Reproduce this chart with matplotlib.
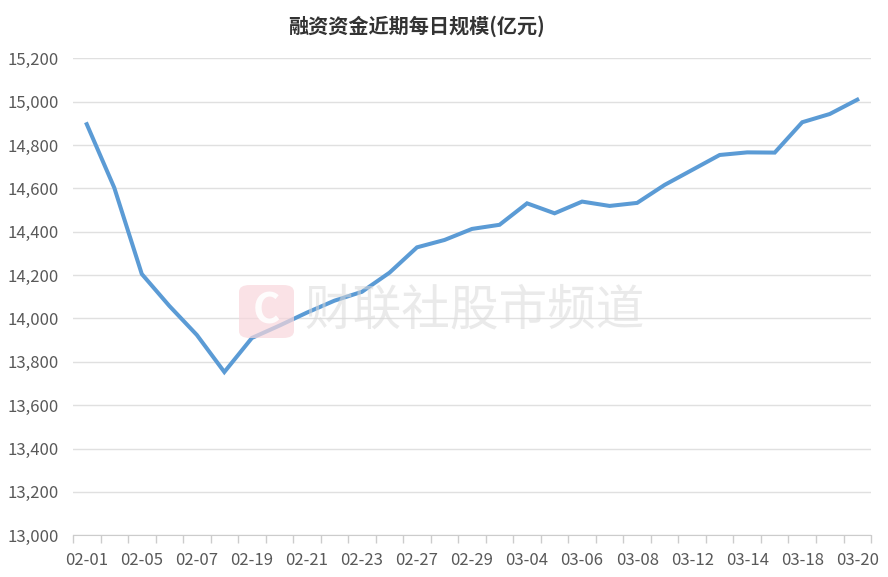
import numpy as np
import matplotlib
matplotlib.use('Agg')
import matplotlib.pyplot as plt
import matplotlib.ticker as ticker
from matplotlib.patches import FancyBboxPatch

plt.rcParams['font.family'] = ['Noto Sans CJK SC', 'DejaVu Sans']

dates = ['02-01', '02-02', '02-05', '02-06', '02-07', '02-08', '02-19', '02-20',
         '02-21', '02-22', '02-23', '02-26', '02-27', '02-28', '02-29', '03-01',
         '03-04', '03-05', '03-06', '03-07', '03-08', '03-11', '03-12', '03-13',
         '03-14', '03-15', '03-18', '03-19', '03-20']
balance = [14896, 14603, 14205, 14058, 13924, 13753, 13910, 13967,
           14027, 14082, 14123, 14211, 14328, 14362, 14413, 14432,
           14531, 14485, 14539, 14519, 14533, 14616, 14685, 14754,
           14766, 14765, 14905, 14943, 15009]

title = '融资资金近期每日规模(亿元)'
text_color = '#595959'

fig = plt.figure(figsize=(8.88, 5.77), dpi=100)
ax = fig.add_axes([0.0822, 0.0723, 0.8987, 0.8267])

x = np.arange(len(dates))
ax.plot(x, balance, color='#5b9bd5', linewidth=2.9, solid_joinstyle='miter', zorder=3)

ax.set_xlim(-0.5, len(dates) - 0.5)
ax.set_ylim(13000, 15200)
ax.yaxis.set_major_locator(ticker.MultipleLocator(200))
ax.yaxis.set_major_formatter(ticker.FuncFormatter(lambda v, _: '{:,.0f}'.format(v)))
ax.grid(axis='y', color='#e0e0e0', linewidth=1)
ax.set_axisbelow(True)

ax.set_xticks(x[::2])
ax.set_xticklabels(dates[::2])
ax.set_xticks(np.arange(-0.5, len(dates)), minor=True)
ax.tick_params(axis='x', which='major', length=0, pad=12, labelsize=12, labelcolor=text_color)
ax.tick_params(axis='x', which='minor', length=6, color='#cccccc', width=1)
ax.tick_params(axis='y', length=0, pad=10, labelsize=12, labelcolor=text_color)

for side in ['top', 'right', 'left']:
    ax.spines[side].set_visible(False)
ax.spines['bottom'].set_color('#cccccc')

fig.text(416.5 / 888, 1 - 26 / 577, title, ha='center', va='center', fontsize=14.5,
         fontweight='bold', color='#333333')

# watermark
logo = FancyBboxPatch((239 / 888, 1 - 338 / 577), 55 / 888, 53 / 577,
                      boxstyle='round,pad=0,rounding_size=0.012',
                      transform=fig.transFigure, facecolor='#f8d7dc',
                      edgecolor='none', alpha=0.7, zorder=5)
fig.patches.append(logo)
fig.text(266.5 / 888, 1 - 311 / 577, 'C', ha='center', va='center', fontsize=30,
         fontweight='bold', color='white', alpha=0.9, zorder=6)
fig.text(475 / 888, 1 - 311 / 577, '财联社股市频道', ha='center', va='center',
         fontsize=35, color='#d9d9d9', alpha=0.55, zorder=6)

fig.savefig('out.png', dpi=100)
